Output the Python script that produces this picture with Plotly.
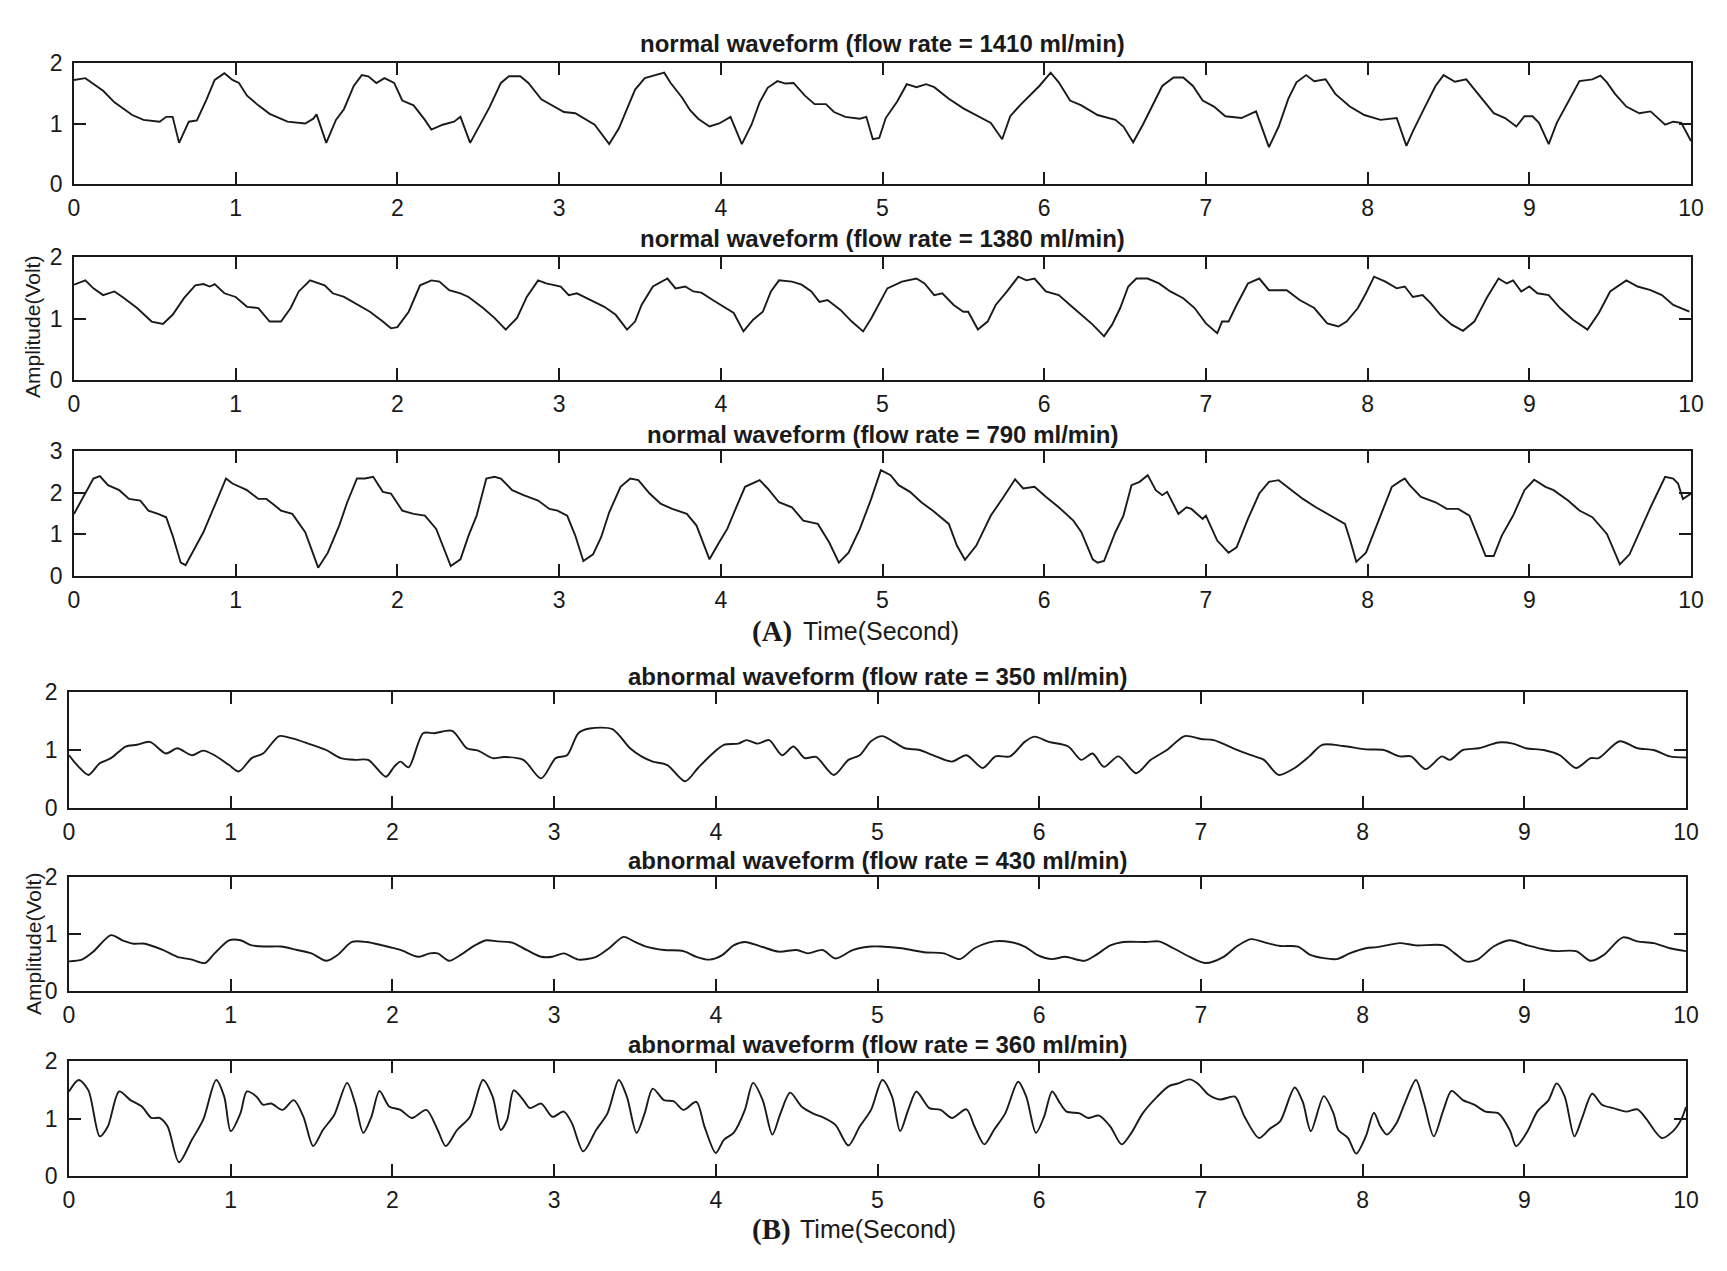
import plotly.graph_objects as go

# ---- data (time in s, amplitude in V) ----
t_normal_1410 = [0, 0.07, 0.18, 0.25, 0.36, 0.43, 0.53, 0.57, 0.61, 0.65, 0.71, 0.76, 0.82, 0.87, 0.93, 0.98,
                 1.02, 1.07, 1.14, 1.21, 1.32, 1.43, 1.48, 1.50, 1.56, 1.62, 1.67, 1.73, 1.78, 1.82, 1.87, 1.92,
                 1.98, 2.03, 2.10, 2.17, 2.21, 2.28, 2.35, 2.39, 2.45, 2.51, 2.57, 2.64, 2.69, 2.76, 2.81, 2.89,
                 2.96, 3.03, 3.10, 3.17, 3.22, 3.31, 3.37, 3.42, 3.47, 3.53, 3.60, 3.65, 3.69, 3.76, 3.81, 3.86,
                 3.93, 3.99, 4.06, 4.13, 4.19, 4.24, 4.29, 4.35, 4.40, 4.45, 4.52, 4.58, 4.65, 4.70, 4.77, 4.86,
                 4.90, 4.94, 4.98, 5.02, 5.09, 5.15, 5.21, 5.27, 5.32, 5.41, 5.50, 5.58, 5.67, 5.74, 5.79, 5.85,
                 5.91, 5.97, 6.04, 6.09, 6.16, 6.23, 6.33, 6.44, 6.49, 6.55, 6.61, 6.66, 6.73, 6.80, 6.86, 6.92,
                 6.98, 7.05, 7.12, 7.22, 7.31, 7.39, 7.45, 7.51, 7.56, 7.62, 7.67, 7.74, 7.80, 7.89, 7.98, 8.08,
                 8.18, 8.24, 8.28, 8.35, 8.42, 8.47, 8.54, 8.61, 8.69, 8.78, 8.85, 8.92, 8.97, 9.02, 9.06, 9.12,
                 9.17, 9.24, 9.31, 9.39, 9.44, 9.48, 9.53, 9.60, 9.68, 9.75, 9.84, 9.89, 9.94, 10.0]
v_normal_1410 = [1.72, 1.75, 1.54, 1.35, 1.14, 1.06, 1.03, 1.11, 1.11, 0.68, 1.03, 1.05, 1.40, 1.72, 1.83, 1.72,
                 1.67, 1.46, 1.30, 1.16, 1.03, 1.00, 1.08, 1.15, 0.68, 1.06, 1.24, 1.62, 1.80, 1.78, 1.67, 1.75,
                 1.67, 1.38, 1.30, 1.06, 0.90, 0.98, 1.03, 1.11, 0.68, 0.98, 1.27, 1.67, 1.78, 1.78, 1.67, 1.40,
                 1.30, 1.19, 1.17, 1.06, 0.98, 0.66, 0.92, 1.24, 1.56, 1.75, 1.80, 1.84, 1.67, 1.43, 1.22, 1.08,
                 0.95, 1.00, 1.11, 0.66, 0.98, 1.35, 1.59, 1.70, 1.66, 1.67, 1.46, 1.32, 1.32, 1.19, 1.11, 1.08,
                 1.11, 0.74, 0.76, 1.09, 1.36, 1.65, 1.60, 1.65, 1.60, 1.41, 1.25, 1.14, 1.01, 0.74, 1.12, 1.30,
                 1.46, 1.62, 1.84, 1.68, 1.38, 1.30, 1.14, 1.06, 0.95, 0.69, 0.98, 1.25, 1.62, 1.76, 1.76, 1.62,
                 1.38, 1.28, 1.12, 1.09, 1.20, 0.61, 0.95, 1.41, 1.68, 1.80, 1.70, 1.73, 1.49, 1.28, 1.14, 1.06,
                 1.09, 0.63, 0.87, 1.25, 1.62, 1.80, 1.69, 1.73, 1.46, 1.17, 1.09, 0.95, 1.12, 1.12, 1.01, 0.66,
                 1.01, 1.36, 1.70, 1.73, 1.79, 1.68, 1.49, 1.28, 1.17, 1.20, 0.98, 1.03, 1.01, 0.71]

t_normal_1380 = [0, 0.07, 0.12, 0.18, 0.25, 0.30, 0.39, 0.48, 0.55, 0.61, 0.68, 0.75, 0.80, 0.84, 0.87, 0.93,
                 1.00, 1.07, 1.14, 1.21, 1.28, 1.34, 1.39, 1.46, 1.55, 1.60, 1.67, 1.76, 1.83, 1.91, 1.96, 2.00,
                 2.07, 2.14, 2.21, 2.26, 2.32, 2.39, 2.44, 2.53, 2.60, 2.67, 2.74, 2.80, 2.87, 2.92, 3.01, 3.06,
                 3.11, 3.17, 3.28, 3.35, 3.42, 3.47, 3.51, 3.58, 3.67, 3.72, 3.78, 3.83, 3.88, 3.95, 4.03, 4.08,
                 4.14, 4.20, 4.26, 4.31, 4.36, 4.44, 4.50, 4.56, 4.61, 4.66, 4.74, 4.81, 4.88, 4.93, 5.03, 5.12,
                 5.21, 5.26, 5.32, 5.37, 5.44, 5.50, 5.53, 5.59, 5.65, 5.70, 5.77, 5.84, 5.89, 5.94, 6.01, 6.09,
                 6.16, 6.23, 6.30, 6.37, 6.42, 6.47, 6.52, 6.57, 6.64, 6.71, 6.78, 6.86, 6.93, 7.00, 7.07, 7.10,
                 7.14, 7.19, 7.26, 7.33, 7.39, 7.50, 7.58, 7.67, 7.75, 7.82, 7.87, 7.94, 7.99, 8.04, 8.11, 8.18,
                 8.23, 8.28, 8.34, 8.39, 8.45, 8.52, 8.59, 8.66, 8.74, 8.81, 8.86, 8.90, 8.95, 9.00, 9.05, 9.12,
                 9.19, 9.27, 9.36, 9.43, 9.50, 9.60, 9.67, 9.75, 9.82, 9.89, 9.99]
v_normal_1380 = [1.55, 1.62, 1.49, 1.38, 1.44, 1.35, 1.17, 0.95, 0.91, 1.06, 1.33, 1.54, 1.56, 1.52, 1.56, 1.41,
                 1.35, 1.19, 1.17, 0.95, 0.95, 1.17, 1.44, 1.62, 1.54, 1.41, 1.35, 1.22, 1.11, 0.95, 0.84, 0.86,
                 1.11, 1.54, 1.62, 1.60, 1.46, 1.41, 1.35, 1.17, 1.01, 0.82, 1.01, 1.35, 1.62, 1.57, 1.52, 1.38,
                 1.41, 1.33, 1.19, 1.06, 0.82, 0.95, 1.22, 1.52, 1.65, 1.49, 1.52, 1.44, 1.42, 1.30, 1.17, 1.09,
                 0.79, 0.98, 1.11, 1.44, 1.62, 1.60, 1.55, 1.44, 1.27, 1.30, 1.14, 0.95, 0.79, 1.00, 1.49, 1.60,
                 1.65, 1.57, 1.38, 1.41, 1.22, 1.11, 1.11, 0.82, 0.95, 1.22, 1.44, 1.68, 1.62, 1.65, 1.44, 1.38,
                 1.22, 1.06, 0.90, 0.71, 0.90, 1.17, 1.52, 1.65, 1.65, 1.57, 1.44, 1.33, 1.17, 0.92, 0.76, 0.95,
                 0.95, 1.22, 1.57, 1.65, 1.46, 1.46, 1.30, 1.17, 0.92, 0.87, 0.95, 1.17, 1.41, 1.68, 1.60, 1.49,
                 1.52, 1.35, 1.38, 1.25, 1.06, 0.90, 0.80, 0.95, 1.35, 1.65, 1.57, 1.62, 1.44, 1.52, 1.41, 1.38,
                 1.17, 0.98, 0.82, 1.09, 1.44, 1.62, 1.52, 1.46, 1.38, 1.22, 1.11]

t_normal_790 = [0, 0.07, 0.12, 0.16, 0.21, 0.28, 0.34, 0.41, 0.46, 0.52, 0.57, 0.61, 0.66, 0.69, 0.73, 0.80,
                0.87, 0.94, 0.98, 1.07, 1.14, 1.19, 1.23, 1.28, 1.35, 1.43, 1.51, 1.57, 1.64, 1.69, 1.75, 1.80,
                1.85, 1.91, 1.96, 2.03, 2.10, 2.17, 2.24, 2.33, 2.39, 2.44, 2.49, 2.55, 2.60, 2.64, 2.71, 2.78,
                2.87, 2.94, 2.99, 3.05, 3.10, 3.15, 3.21, 3.26, 3.31, 3.38, 3.44, 3.49, 3.56, 3.63, 3.70, 3.79,
                3.85, 3.93, 3.99, 4.04, 4.10, 4.15, 4.24, 4.29, 4.36, 4.44, 4.51, 4.60, 4.67, 4.73, 4.79, 4.86,
                4.93, 4.99, 5.05, 5.10, 5.17, 5.24, 5.31, 5.41, 5.46, 5.51, 5.58, 5.67, 5.74, 5.82, 5.87, 5.94,
                6.01, 6.09, 6.18, 6.23, 6.30, 6.33, 6.37, 6.44, 6.49, 6.54, 6.59, 6.64, 6.69, 6.73, 6.76, 6.83,
                6.88, 6.91, 6.98, 7.00, 7.07, 7.14, 7.19, 7.26, 7.33, 7.39, 7.45, 7.53, 7.60, 7.68, 7.77, 7.86,
                7.89, 7.93, 7.99, 8.08, 8.15, 8.20, 8.23, 8.26, 8.33, 8.42, 8.49, 8.56, 8.63, 8.68, 8.73, 8.78,
                8.83, 8.90, 8.97, 9.03, 9.10, 9.15, 9.24, 9.31, 9.39, 9.48, 9.56, 9.62, 9.68, 9.75, 9.84, 9.89,
                9.92, 9.95, 10.0]
v_normal_790 = [1.49, 1.98, 2.34, 2.40, 2.18, 2.06, 1.85, 1.81, 1.57, 1.49, 1.41, 0.97, 0.32, 0.26, 0.56, 1.05,
                1.69, 2.34, 2.22, 2.06, 1.85, 1.85, 1.73, 1.57, 1.49, 1.05, 0.20, 0.56, 1.21, 1.77, 2.34, 2.34,
                2.38, 2.02, 1.98, 1.57, 1.49, 1.45, 1.13, 0.24, 0.40, 0.97, 1.45, 2.34, 2.38, 2.34, 2.06, 1.94,
                1.81, 1.61, 1.57, 1.45, 0.97, 0.36, 0.52, 0.93, 1.53, 2.14, 2.34, 2.30, 1.98, 1.73, 1.61, 1.49,
                1.21, 0.40, 0.81, 1.13, 1.69, 2.14, 2.30, 2.10, 1.77, 1.65, 1.33, 1.25, 0.81, 0.32, 0.56, 1.13,
                1.85, 2.54, 2.42, 2.18, 2.02, 1.77, 1.57, 1.25, 0.73, 0.39, 0.73, 1.45, 1.85, 2.32, 2.10, 2.14,
                1.90, 1.65, 1.33, 1.05, 0.40, 0.32, 0.36, 1.05, 1.45, 2.18, 2.26, 2.42, 2.06, 1.94, 2.02, 1.49,
                1.65, 1.61, 1.37, 1.45, 0.85, 0.56, 0.69, 1.37, 1.98, 2.26, 2.30, 2.06, 1.85, 1.65, 1.45, 1.25,
                0.89, 0.34, 0.56, 1.45, 2.14, 2.27, 2.34, 2.18, 1.90, 1.77, 1.61, 1.61, 1.45, 0.97, 0.48, 0.48,
                0.97, 1.45, 2.06, 2.31, 2.14, 2.06, 1.81, 1.57, 1.41, 1.01, 0.28, 0.52, 1.05, 1.65, 2.38, 2.34,
                2.22, 1.85, 1.98]

t_abnormal_350 = [0, 0.06, 0.12, 0.19, 0.26, 0.35, 0.42, 0.50, 0.60, 0.67, 0.76, 0.83, 0.90, 0.99, 1.05, 1.13,
                  1.20, 1.30, 1.38, 1.48, 1.59, 1.68, 1.77, 1.85, 1.96, 2.01, 2.05, 2.10, 2.19, 2.26, 2.37, 2.46,
                  2.53, 2.62, 2.69, 2.81, 2.92, 3.01, 3.08, 3.15, 3.22, 3.36, 3.47, 3.54, 3.61, 3.70, 3.81, 3.89,
                  3.98, 4.05, 4.14, 4.19, 4.26, 4.33, 4.41, 4.48, 4.55, 4.62, 4.73, 4.82, 4.89, 4.96, 5.03, 5.10,
                  5.17, 5.26, 5.36, 5.46, 5.55, 5.65, 5.73, 5.82, 5.91, 5.97, 6.06, 6.18, 6.26, 6.33, 6.40, 6.49,
                  6.60, 6.69, 6.79, 6.90, 7.00, 7.08, 7.20, 7.31, 7.39, 7.48, 7.58, 7.67, 7.75, 7.88, 8.02, 8.13,
                  8.23, 8.30, 8.39, 8.49, 8.54, 8.62, 8.72, 8.84, 8.93, 9.01, 9.12, 9.22, 9.32, 9.41, 9.46, 9.59,
                  9.70, 9.80, 9.90, 10.0]
v_abnormal_350 = [0.91, 0.71, 0.57, 0.77, 0.86, 1.06, 1.09, 1.14, 0.94, 1.03, 0.91, 0.99, 0.91, 0.74, 0.63, 0.86,
                  0.94, 1.24, 1.20, 1.11, 1.00, 0.86, 0.83, 0.83, 0.54, 0.71, 0.80, 0.70, 1.29, 1.29, 1.33, 1.03,
                  0.99, 0.86, 0.88, 0.83, 0.51, 0.86, 0.91, 1.29, 1.37, 1.36, 1.03, 0.89, 0.80, 0.74, 0.46, 0.69,
                  0.94, 1.09, 1.11, 1.17, 1.11, 1.17, 0.91, 1.06, 0.86, 0.88, 0.57, 0.83, 0.91, 1.15, 1.24, 1.14,
                  1.03, 1.00, 0.89, 0.80, 0.91, 0.69, 0.89, 0.89, 1.14, 1.23, 1.14, 1.06, 0.83, 0.94, 0.71, 0.89,
                  0.60, 0.83, 1.00, 1.24, 1.19, 1.17, 1.03, 0.91, 0.83, 0.57, 0.69, 0.89, 1.09, 1.07, 1.01, 1.00,
                  0.89, 0.89, 0.67, 0.89, 0.83, 1.00, 1.03, 1.13, 1.11, 1.03, 1.00, 0.91, 0.69, 0.86, 0.86, 1.15,
                  1.03, 1.00, 0.89, 0.87]

t_abnormal_430 = [0, 0.08, 0.15, 0.26, 0.33, 0.40, 0.47, 0.58, 0.67, 0.76, 0.84, 0.90, 0.99, 1.06, 1.13, 1.22,
                  1.31, 1.41, 1.50, 1.59, 1.66, 1.75, 1.84, 1.94, 2.05, 2.16, 2.23, 2.28, 2.35, 2.42, 2.51, 2.58,
                  2.65, 2.74, 2.83, 2.92, 2.99, 3.06, 3.15, 3.26, 3.34, 3.43, 3.50, 3.57, 3.68, 3.80, 3.88, 3.96,
                  4.04, 4.11, 4.18, 4.28, 4.39, 4.50, 4.57, 4.66, 4.74, 4.85, 4.96, 5.02, 5.15, 5.29, 5.41, 5.51,
                  5.60, 5.72, 5.82, 5.91, 5.99, 6.08, 6.16, 6.28, 6.35, 6.44, 6.52, 6.66, 6.74, 6.83, 6.93, 7.03,
                  7.14, 7.22, 7.31, 7.41, 7.49, 7.60, 7.68, 7.84, 7.92, 8.02, 8.09, 8.23, 8.33, 8.50, 8.57, 8.64,
                  8.71, 8.81, 8.91, 9.02, 9.14, 9.20, 9.32, 9.41, 9.49, 9.61, 9.70, 9.80, 9.90, 10.0]
v_abnormal_430 = [0.52, 0.55, 0.69, 0.98, 0.89, 0.83, 0.83, 0.72, 0.60, 0.55, 0.49, 0.66, 0.89, 0.89, 0.80, 0.78,
                  0.78, 0.72, 0.66, 0.53, 0.63, 0.86, 0.86, 0.80, 0.72, 0.60, 0.66, 0.66, 0.53, 0.63, 0.80, 0.89,
                  0.87, 0.85, 0.72, 0.60, 0.60, 0.66, 0.55, 0.60, 0.75, 0.95, 0.86, 0.78, 0.72, 0.70, 0.60, 0.55,
                  0.63, 0.80, 0.86, 0.78, 0.69, 0.72, 0.66, 0.72, 0.57, 0.72, 0.78, 0.78, 0.75, 0.68, 0.66, 0.56,
                  0.75, 0.87, 0.86, 0.78, 0.63, 0.56, 0.60, 0.53, 0.63, 0.80, 0.86, 0.86, 0.87, 0.75, 0.60, 0.49,
                  0.60, 0.78, 0.91, 0.84, 0.79, 0.78, 0.63, 0.56, 0.66, 0.75, 0.77, 0.84, 0.80, 0.80, 0.66, 0.52,
                  0.55, 0.78, 0.89, 0.80, 0.72, 0.70, 0.70, 0.53, 0.63, 0.94, 0.87, 0.84, 0.75, 0.70]

t_abnormal_360 = [0, 0.06, 0.12, 0.19, 0.24, 0.31, 0.38, 0.45, 0.51, 0.56, 0.61, 0.68, 0.76, 0.83, 0.91, 0.96,
                  1.00, 1.06, 1.10, 1.16, 1.20, 1.25, 1.32, 1.39, 1.45, 1.51, 1.57, 1.64, 1.72, 1.77, 1.82, 1.87,
                  1.92, 1.98, 2.05, 2.12, 2.21, 2.28, 2.33, 2.40, 2.48, 2.56, 2.62, 2.67, 2.71, 2.75, 2.81, 2.85,
                  2.92, 2.99, 3.06, 3.11, 3.18, 3.26, 3.33, 3.40, 3.45, 3.51, 3.56, 3.61, 3.68, 3.74, 3.80, 3.88,
                  3.93, 4.00, 4.05, 4.11, 4.18, 4.23, 4.29, 4.35, 4.40, 4.46, 4.53, 4.60, 4.67, 4.74, 4.82, 4.89,
                  4.96, 5.03, 5.09, 5.14, 5.19, 5.24, 5.29, 5.32, 5.39, 5.46, 5.55, 5.60, 5.66, 5.72, 5.79, 5.87,
                  5.92, 5.98, 6.03, 6.08, 6.13, 6.17, 6.25, 6.30, 6.37, 6.44, 6.51, 6.57, 6.64, 6.73, 6.80, 6.86,
                  6.93, 6.98, 7.05, 7.12, 7.21, 7.27, 7.36, 7.43, 7.49, 7.58, 7.63, 7.68, 7.76, 7.82, 7.85, 7.91,
                  7.96, 8.02, 8.07, 8.11, 8.15, 8.21, 8.26, 8.33, 8.38, 8.44, 8.50, 8.55, 8.62, 8.69, 8.76, 8.84,
                  8.91, 8.95, 9.02, 9.08, 9.15, 9.20, 9.25, 9.31, 9.36, 9.42, 9.48, 9.55, 9.63, 9.70, 9.75, 9.85,
                  9.92, 9.97, 10.0]
v_abnormal_360 = [1.47, 1.67, 1.49, 0.69, 0.86, 1.47, 1.32, 1.21, 1.01, 1.01, 0.86, 0.24, 0.63, 0.98, 1.67, 1.38,
                  0.78, 1.09, 1.47, 1.38, 1.24, 1.26, 1.15, 1.32, 1.03, 0.52, 0.80, 1.06, 1.62, 1.26, 0.75, 1.03,
                  1.48, 1.21, 1.15, 1.01, 1.15, 0.80, 0.52, 0.80, 1.03, 1.67, 1.38, 0.80, 0.98, 1.49, 1.32, 1.18,
                  1.26, 1.03, 1.12, 0.92, 0.43, 0.80, 1.09, 1.67, 1.38, 0.75, 1.09, 1.52, 1.32, 1.30, 1.15, 1.29,
                  0.86, 0.40, 0.63, 0.75, 1.15, 1.62, 1.32, 0.72, 1.09, 1.45, 1.21, 1.09, 1.01, 0.89, 0.53, 0.86,
                  1.15, 1.67, 1.38, 0.78, 1.15, 1.47, 1.29, 1.18, 1.15, 1.01, 1.16, 0.86, 0.55, 0.80, 1.09, 1.64,
                  1.38, 0.75, 1.03, 1.47, 1.26, 1.12, 1.09, 1.01, 1.05, 0.86, 0.55, 0.75, 1.09, 1.38, 1.56, 1.61,
                  1.68, 1.61, 1.41, 1.33, 1.38, 1.03, 0.66, 0.83, 0.95, 1.54, 1.29, 0.78, 1.39, 1.09, 0.80, 0.66,
                  0.39, 0.69, 1.10, 0.86, 0.72, 0.92, 1.26, 1.67, 1.26, 0.69, 1.15, 1.48, 1.32, 1.24, 1.12, 1.09,
                  0.80, 0.52, 0.78, 1.12, 1.32, 1.61, 1.38, 0.69, 1.03, 1.43, 1.24, 1.18, 1.12, 1.16, 1.01, 0.66,
                  0.78, 0.98, 1.20]

panel_titles = [
    "normal waveform (flow rate = 1410 ml/min)",
    "normal waveform (flow rate = 1380 ml/min)",
    "normal waveform (flow rate = 790 ml/min)",
    "abnormal waveform (flow rate = 350 ml/min)",
    "abnormal waveform (flow rate = 430 ml/min)",
    "abnormal waveform (flow rate = 360 ml/min)",
]
series = [
    (t_normal_1410, v_normal_1410),
    (t_normal_1380, v_normal_1380),
    (t_normal_790, v_normal_790),
    (t_abnormal_350, v_abnormal_350),
    (t_abnormal_430, v_abnormal_430),
    (t_abnormal_360, v_abnormal_360),
]
y_max = [2, 2, 3, 2, 2, 2]
x_ticks = list(range(0, 11))

# ---- layout ----
# the page body has an 8px margin, so the figure is made 16px smaller
# and all page positions below are shifted by that offset
PAGE_W, PAGE_H, OFF = 1727, 1271, 8
W, H = PAGE_W - 2 * OFF, PAGE_H - 2 * OFF


def px(x):
    return (x - OFF) / W


def py(y):
    return 1 - (y - OFF) / H


# panel boxes in page pixels: (left, right, top, bottom)
boxes = [
    (74, 1691, 63, 184),
    (74, 1691, 257, 380),
    (74, 1691, 451, 576),
    (69, 1686, 692, 808),
    (69, 1686, 877, 991),
    (69, 1686, 1061, 1176),
]
title_y = [44, 239, 435, 676, 860, 1044]
FONT = "Liberation Sans, Arial, sans-serif"
INK = "#1a1a1a"

fig = go.Figure()
layout = dict(
    template="none",
    width=W, height=H, autosize=False,
    margin=dict(l=0, r=0, t=0, b=0, pad=0, autoexpand=False),
    paper_bgcolor="white", plot_bgcolor="white",
    showlegend=False,
    font=dict(family=FONT, size=22, color=INK),
)

annotations = []
for i, ((t, v), (l, r, top, bot)) in enumerate(zip(series, boxes)):
    n = "" if i == 0 else str(i + 1)
    smooth = i >= 3
    fig.add_trace(go.Scatter(
        x=t, y=v, mode="lines",
        line=dict(color=INK, width=1.9, shape="spline" if smooth else "linear",
                  smoothing=0.8 if smooth else None),
        xaxis="x" + n, yaxis="y" + n, hoverinfo="skip",
    ))
    axis_common = dict(
        ticks="inside", ticklen=12, tickwidth=1.6, tickcolor=INK,
        showline=True, linecolor=INK, linewidth=1.6, mirror="ticks",
        showgrid=False, zeroline=False, fixedrange=True, automargin=False,
        tickfont=dict(size=23, family=FONT, color=INK),
    )
    layout["xaxis" + n] = dict(
        domain=[px(l), px(r)], anchor="y" + n, range=[0, 10], tickvals=x_ticks,
        ticklabelstandoff=3, **axis_common,
    )
    layout["yaxis" + n] = dict(
        domain=[py(bot), py(top)], anchor="x" + n, range=[0, y_max[i]],
        tickvals=list(range(0, y_max[i] + 1)), ticklabelstandoff=5,
        **axis_common,
    )
    annotations.append(dict(
        text="<b>" + panel_titles[i] + "</b>", x=px((l + r) / 2), y=py(title_y[i]),
        xref="paper", yref="paper", xanchor="center", yanchor="middle", showarrow=False,
        font=dict(size=24, family=FONT, color=INK),
    ))

# y axis titles and section captions
for yc in (327, 944):
    annotations.append(dict(
        text="Amplitude(Volt)", x=px(33), y=py(yc), xref="paper", yref="paper",
        textangle=-90, showarrow=False, xanchor="center", yanchor="middle",
        font=dict(size=21, family=FONT, color=INK),
    ))
for label, xl, xt, yc in (("(A)", 772, 881, 631), ("(B)", 771, 878, 1229)):
    annotations.append(dict(
        text="<b>" + label + "</b>", x=px(xl), y=py(yc), xref="paper", yref="paper",
        showarrow=False, xanchor="center", yanchor="middle",
        font=dict(size=29, family="Liberation Serif, Times New Roman, serif", color=INK),
    ))
    annotations.append(dict(
        text="Time(Second)", x=px(xt), y=py(yc), xref="paper", yref="paper",
        showarrow=False, xanchor="center", yanchor="middle",
        font=dict(size=25, family=FONT, color=INK),
    ))

layout["annotations"] = annotations
fig.update_layout(**layout)

fig.write_html("out.html")
